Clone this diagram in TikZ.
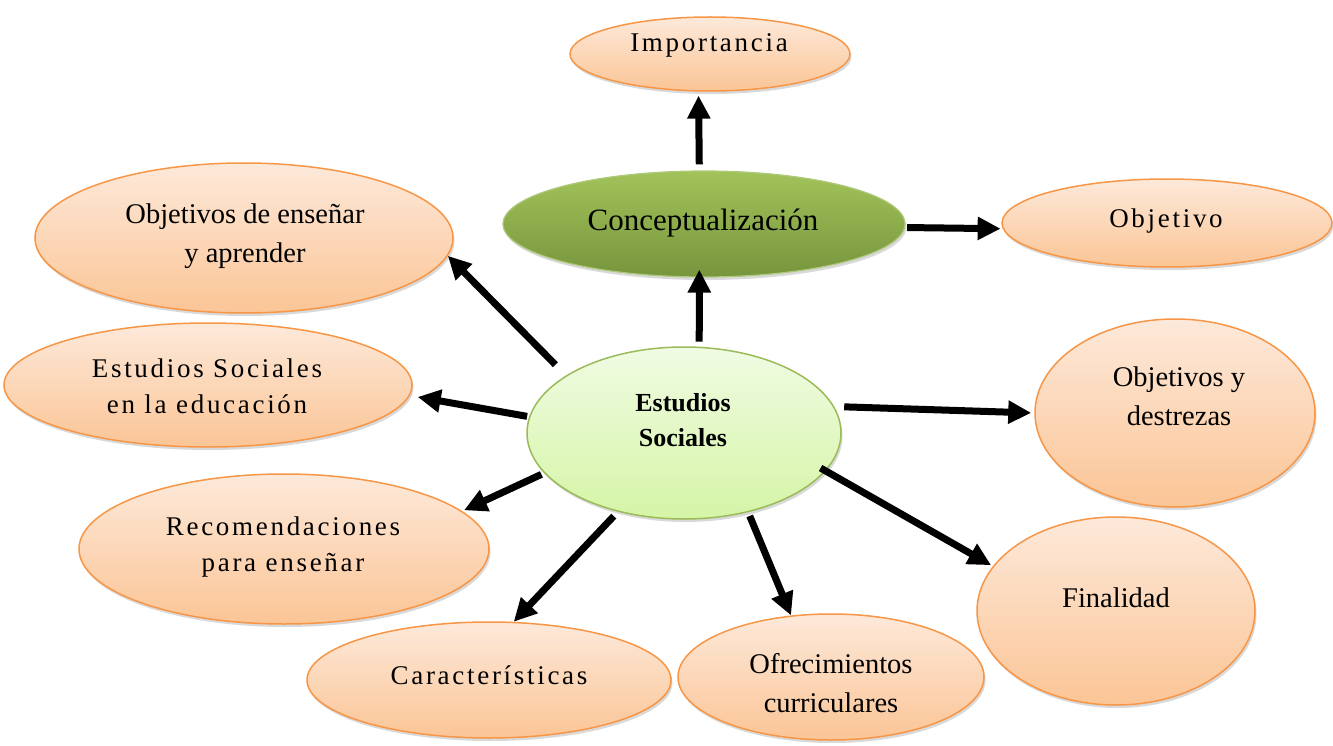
\documentclass[tikz,border=0pt]{standalone}
\usepackage{fontspec}
\setmainfont{Liberation Serif}
\newfontfamily\spacedfont[LetterSpace=10]{Liberation Serif}
\usepackage{tikz}
\usetikzlibrary{shapes, arrows.meta, shadows}

\definecolor{peachtop}{HTML}{FDE9DA}
\definecolor{peachbot}{HTML}{FBC596}
\definecolor{peachline}{HTML}{F79646}
\definecolor{leaftop}{HTML}{A2C35A}
\definecolor{leafbot}{HTML}{77953D}
\definecolor{leafline}{HTML}{9BBB59}
\definecolor{mintop}{HTML}{F0FBE3}
\definecolor{minbot}{HTML}{D5F5A6}

\begin{document}
\begin{tikzpicture}[x=1pt, y=-1pt,
    softshadow/.style={drop shadow={shadow xshift=1.5pt, shadow yshift=-3pt, opacity=0.25, fill=black!60}},
    topic/.style={ellipse, draw=peachline, line width=1.5pt, top color=peachtop, bottom color=peachbot, inner sep=0pt, softshadow},
    concept/.style={ellipse, draw=leafline!80, line width=1.2pt, top color=leaftop, bottom color=leafbot, inner sep=0pt, softshadow},
    core/.style={ellipse, draw=leafline, line width=1.5pt, top color=mintop, bottom color=minbot, inner sep=0pt, softshadow},
    txt/.style={anchor=base, align=center, font=\fontsize{28.5}{39}\selectfont},
    spaced/.style={anchor=base, align=center, font=\spacedfont\fontsize{27}{36}\selectfont},
    heavyline/.style={draw, line width=7pt, -{Triangle[length=23pt, width=22pt]}}
]
\useasboundingbox (0,0) rectangle (1333,746);

% ─── Ellipses ────────────────────────────────────────────────────────
\node[topic, minimum width=280pt, minimum height=74pt] (imp) at (710,54) {};
\node[concept, minimum width=402pt, minimum height=106pt] (conc) at (704,224) {};
\node[topic, minimum width=330pt, minimum height=88pt] (obj) at (1167,223) {};
\node[topic, minimum width=418pt, minimum height=150pt] (oa) at (244,238) {};
\node[topic, minimum width=408pt, minimum height=124pt] (es) at (208,385) {};
\node[core, minimum width=314pt, minimum height=172pt] (cs) at (684,433) {};
\node[topic, minimum width=280pt, minimum height=188pt] (od) at (1175,413) {};
\node[topic, minimum width=410pt, minimum height=150pt] (rec) at (284,549) {};
\node[topic, minimum width=278pt, minimum height=188pt] (fin) at (1116,611) {};
\node[topic, minimum width=364pt, minimum height=116pt] (car) at (489,680) {};
\node[topic, minimum width=306pt, minimum height=126pt] (ofr) at (831,677) {};

% ─── Texts (base = last line) ────────────────────────────────────────
\node[spaced] (imp-t) at (709,52) {Importancia};
\node[txt, font=\fontsize{31}{36}\selectfont] (conc-t) at (703,230) {Conceptualización};
\node[spaced] (obj-t) at (1166,227) {Objetivo};
\node[txt] (oa-t) at (245,262) {Objetivos de enseñar\\y aprender};
\node[spaced] (es-t) at (207,413) {Estudios Sociales\\en la educación};
\node[txt, font=\bfseries\fontsize{26}{35}\selectfont] (cs-t) at (683,446) {Estudios\\Sociales};
\node[txt] (od-t) at (1179,425) {Objetivos y\\destrezas};
\node[spaced] (rec-t) at (283,571) {Recomendaciones\\para enseñar};
\node[txt] (fin-t) at (1116,607) {Finalidad};
\node[spaced] (car-t) at (489,684) {Características};
\node[txt] (ofr-t) at (831,712) {Ofrecimientos\\curriculares};

% ─── Arrows ──────────────────────────────────────────────────────────
\draw[heavyline, shorten <=6pt, shorten >=4pt] (conc.95) -- (imp.253);
\draw[heavyline, shorten <=2pt, shorten >=2pt] (conc.359) -- (obj.182);
\foreach \a/\t/\b/\s/\e in {80/conc/265/5/-8, 154/oa/355/15/0, 174/es/357/2/8, 196/rec/12/3/2,
                           230/car/67/6/0, 309/ofr/123/4/0, 345/fin/160/-6/2, 10/od/180/10/3} {
    \draw[heavyline, shorten <=\s pt, shorten >=\e pt] (cs.\a) -- (\t.\b);
}

\end{tikzpicture}
\end{document}
